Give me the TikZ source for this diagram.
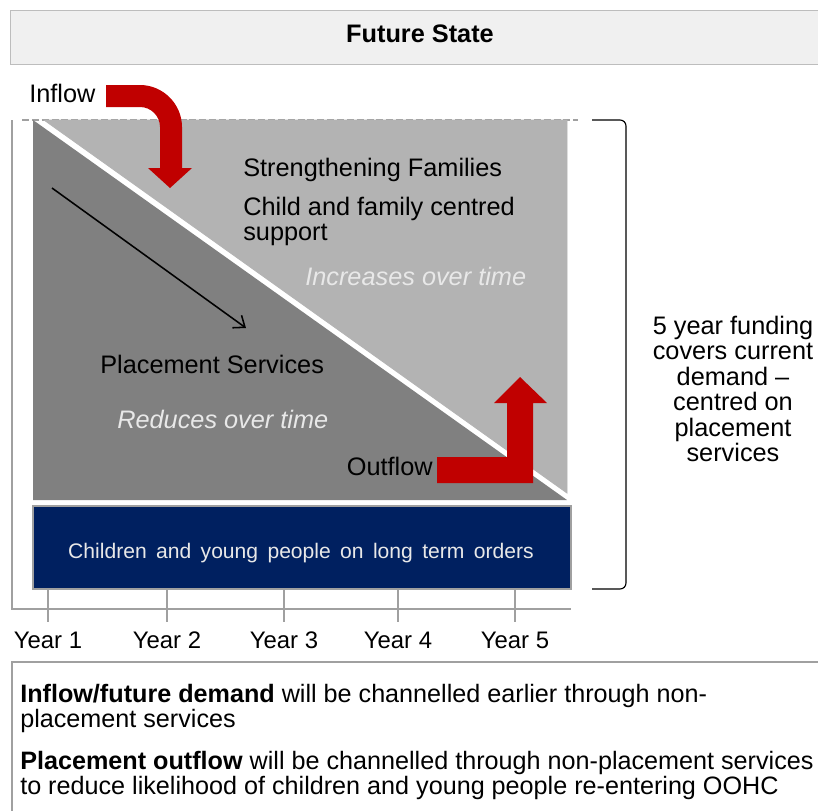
\documentclass[tikz,border=0pt]{standalone}
\usepackage{fontspec}
\setmainfont{Liberation Sans}
\usepackage{tikz}
\usepackage{xcolor}
\usetikzlibrary{arrows,arrows.meta,positioning,calc}
\definecolor{headgray}{RGB}{240,240,240}
\definecolor{linegray}{RGB}{160,160,160}
\definecolor{darkband}{RGB}{128,128,128}
\definecolor{lightband}{RGB}{179,179,179}
\definecolor{navy}{RGB}{0,32,96}
\definecolor{flowred}{RGB}{192,0,0}
\definecolor{fadetext}{RGB}{232,232,232}

\begin{document}
\begin{tikzpicture}[x=0.025cm, y=-0.025cm,
  >={Straight Barb[length=7pt,width=11pt]},
  txt/.style={inner sep=0, font=\fontsize{18}{19}\selectfont},
  fade/.style={txt, text=fadetext, font=\fontsize{18}{19}\selectfont\itshape},
  yr/.style={inner sep=0, font=\fontsize{17}{18}\selectfont},
  frame/.style={draw=linegray, line width=1pt}]
\useasboundingbox (0,0) rectangle (818,811);

% Header
\fill[headgray] (10,10) rectangle (818,64);
\draw[draw=linegray!70] (818,10) -- (10,10) -- (10,64) -- (818,64);
\node[txt, font=\fontsize{18}{19}\selectfont\bfseries] (title) at (420,34) {Future State};

% Axes and dashed top line
\draw[frame] (12,120) -- (12,609) -- (571,609);
\draw[linegray, line width=1.2pt, dash pattern=on 5pt off 2pt] (22,120) -- (578,120);

% Bands
\fill[darkband] (33,120) -- (567,500) -- (33,500) -- cycle;
\filldraw[fill=lightband, draw=linegray!80, line width=0.6pt] (44,120) -- (567,120) -- (567,493) -- cycle;
\filldraw[fill=navy, draw=linegray, line width=1pt] (33,506) rectangle (571,589);

% Year ticks
\draw[frame] (48,589) -- (48,622);
\draw[frame] (167,589) -- (167,622);
\draw[frame] (284,589) -- (284,622);
\draw[frame] (398,589) -- (398,622);
\draw[frame] (515,589) -- (515,622);
\node[yr] (Y1) at (48,640) {Year 1};
\node[yr] (Y2) at (167,640) {Year 2};
\node[yr] (Y3) at (284,640) {Year 3};
\node[yr] (Y4) at (398,640) {Year 4};
\node[yr] (Y5) at (515,640) {Year 5};

% Inflow arrow
\fill[flowred] (106,85) -- (140,85) .. controls (163,85) and (182,104) .. (182,127)
  -- (182,168) -- (192,168) -- (170,188) -- (148,168) -- (160,168) -- (160,127)
  .. controls (160,116) and (151,107) .. (140,107) -- (106,107) -- cycle;
\node[txt, anchor=west] (inflow) at (29,93) {Inflow};

% Outflow arrow
\fill[flowred] (437,457) -- (507,457) -- (507,403) -- (494,403) -- (520,377)
  -- (547,403) -- (533,403) -- (533,483) -- (437,483) -- cycle;
\node[txt, anchor=east] (outflow) at (433,466) {Outflow};

% Trend arrow
\coordinate (trendS) at (52,188);
\coordinate (trendE) at (246,328);
\draw[->, line width=1.1pt] (trendS) -- (trendE);

% Band labels
\node[txt, anchor=west] (sf) at (243,170) {Strengthening Families};
\node[txt, anchor=west, align=left, font=\fontsize{18}{17.7}\selectfont] (cf) at (243,221.5) {Child and family centred\\support};
\node[fade, anchor=west] (inc) at (305,276) {Increases over time};
\node[txt, anchor=west] (ps) at (100,364) {Placement Services};
\node[fade, anchor=west] (red) at (117,419) {Reduces over time};
\node[txt, text=fadetext, font=\fontsize{15}{16}\selectfont] (lto) at (301,553) {Children~\,and~\,young~\,people~\,on~\,long~\,term~\,orders};

% Funding bracket
\draw[thick] (592,120) -- (620,120) to[out=0,in=90] (626,126) -- (626,583) to[out=-90,in=0] (620,589) -- (592,589);
\node[txt, align=center, font=\fontsize{18}{18.1}\selectfont] (fund) at (733,389) {5 year funding\\covers current\\demand --\\centred on\\placement\\services};

% Notes box
\draw[frame] (818,662) -- (12,662) -- (12,811);
\node[txt, anchor=west, align=left, font=\fontsize{17.9}{16.3}\selectfont] (note1) at (20,708.5) {\textbf{Inflow/future demand} will be channelled earlier through non-\\placement services};
\node[txt, anchor=west, align=left, font=\fontsize{17.9}{16.3}\selectfont] (note2) at (20,775.5) {\textbf{Placement outflow} will be channelled through non-placement services\\to reduce likelihood of children and young people re-entering OOHC};
\end{tikzpicture}
\end{document}
